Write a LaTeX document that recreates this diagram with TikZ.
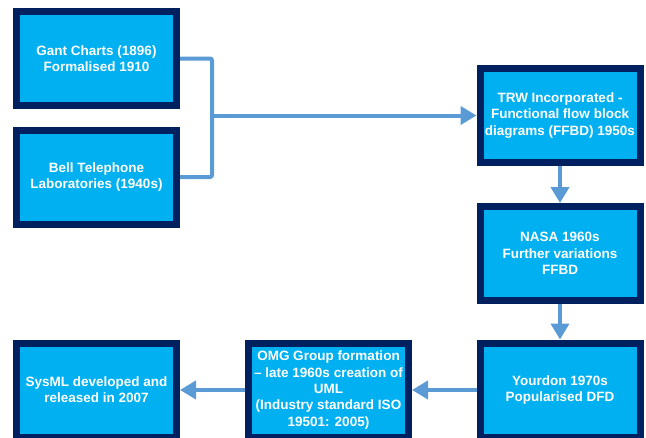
\documentclass[tikz,border=0pt]{standalone}
\usepackage{fontspec}
\setmainfont{Liberation Sans}
\usetikzlibrary{arrows.meta,shadows}
\definecolor{boxfill}{HTML}{00B0F0}
\definecolor{boxline}{HTML}{002060}
\definecolor{conncol}{HTML}{5B9BD5}
\tikzset{
  stage/.style={draw=boxline, fill=boxfill, line width=7pt, minimum width=160pt, minimum height=94pt,
    inner sep=0pt, align=center, text=white, font=\bfseries\fontsize{13.5}{16.3}\selectfont,
    drop shadow={opacity=0.18, shadow xshift=1pt, shadow yshift=-2.5pt}},
  conn/.style={draw=conncol, line width=4pt},
  arr/.style={conn, -{Triangle[length=16pt,width=18pt]}}
}
\begin{document}
\begin{tikzpicture}[x=1pt,y=-1pt]
\useasboundingbox (0,0) rectangle (646,437);
\clip (0,0) rectangle (646,437);
\node[stage] (gant) at (96.5,58.5) {Gant Charts (1896)\\Formalised 1910};
\node[stage] (bell) at (96.5,177) {Bell Telephone\\Laboratories (1940s)};
\node[stage] (trw) at (560,115.5) {TRW Incorporated -\\Functional flow block\\diagrams (FFBD) 1950s};
\node[stage] (nasa) at (560,253.5) {NASA 1960s\\Further variations\\FFBD};
\node[stage] (yourdon) at (560,390) {Yourdon 1970s\\Popularised DFD};
\node[stage] (omg) at (328.5,390) {OMG Group formation\\– late 1960s creation of\\UML\\(Industry standard ISO\\19501: 2005)};
\node[stage] (sysml) at (96.5,390) {SysML developed and\\released in 2007};
\coordinate (j) at (212,115.5);
\draw[conn, rounded corners=2pt] (gant.east) -| (j) |- (bell.east);
\draw[arr] (j) -- (trw.west);
\draw[arr] (trw.south) -- (nasa.north);
\draw[arr] (nasa.south) -- (yourdon.north);
\draw[arr] (yourdon.west) -- (omg.east);
\draw[arr] (omg.west) -- (sysml.east);
\end{tikzpicture}
\end{document}
